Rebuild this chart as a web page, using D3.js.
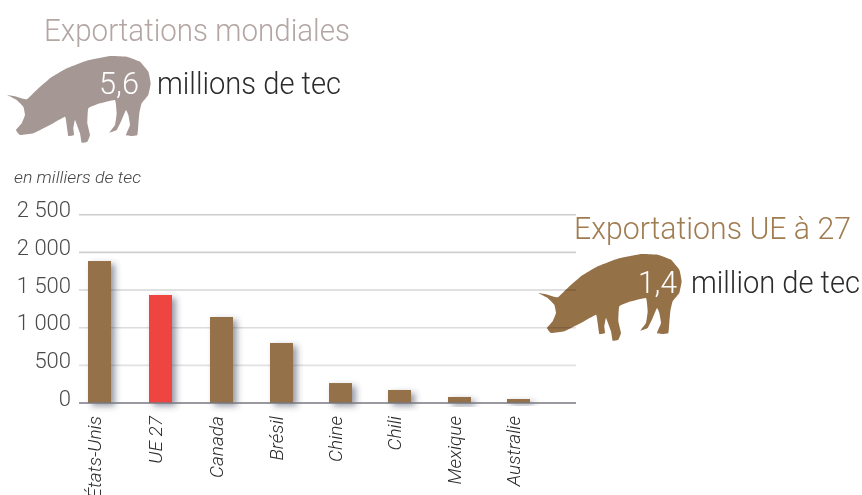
<!DOCTYPE html>
<html><head><meta charset="utf-8">
<script src="https://cdn.jsdelivr.net/npm/d3@7"></script>
<style>
html,body{margin:0;padding:0;background:#fff;overflow:hidden}
svg{display:block}
text{font-family:"Roboto",sans-serif;font-weight:300}
</style></head><body>
<svg id="c" width="862" height="495"></svg>
<script>
const categories=["États-Unis","UE 27","Canada","Brésil","Chine","Chili","Mexique","Australie"];
const values=[1885,1434,1142,797,265,173,80,53];
const barColors=["#957148","#ef4440","#957148","#957148","#957148","#957148","#957148","#957148"];
const tickValues=[0,500,1000,1500,2000,2500];
const tickLabels=["0","500","1 000","1 500","2 000","2 500"];
const gridColors=["none","#e2e2e2","#dcdcdc","#d6d6d6","#cfcfcf","#cccccc"];
const pigOutline=[[22,285],[50,290],[80,298],[110,270],[150,235],[200,205],[260,182],[330,168],[380,170],[420,185],[445,215],[452,250],[445,285],[425,310],[418,340],[415,375],[412,405],[395,408],[378,405],[390,375],[385,345],[378,330],[365,360],[350,390],[328,398],[345,375],[350,340],[345,300],[300,310],[265,325],[262,370],[270,405],[262,425],[245,428],[240,400],[225,360],[220,385],[222,405],[205,408],[200,375],[195,350],[150,375],[100,400],[60,405],[48,390],[65,370],[75,345],[70,320],[50,300]];

const svg=d3.select("#c");
const defs=svg.append("defs");
const f=defs.append("filter").attr("id","sh").attr("x","-60%").attr("y","-60%").attr("width","220%").attr("height","220%");
f.append("feDropShadow").attr("dx",4).attr("dy",3).attr("stdDeviation",3.2).attr("flood-color","#2f3550").attr("flood-opacity",0.5);

const y=d3.scaleLinear().domain([0,2500]).range([403,214.7]);
const xPos=d3.scaleOrdinal().domain(categories).range([99.5,160.5,221.5,281.5,340.5,399.5,459.5,518.5]);

function pig(dx,dy,fill){
  const px=d3.scaleLinear().domain([0,3]).range([dx,dx+1]);
  const py=d3.scaleLinear().domain([0,3]).range([dy,dy+1]);
  const line=d3.line().x(d=>px(d[0])).y(d=>py(d[1])).curve(d3.curveCardinalClosed.tension(0.7));
  svg.append("path").attr("d",line(pigOutline)).attr("fill",fill);
}
pig(0,0,"#a59794");
pig(531,198,"#957148");

const g=svg.append("g");
g.selectAll("line.grid").data(tickValues).join("line").attr("class","grid")
 .attr("x1",79).attr("x2",576).attr("y1",d=>y(d)).attr("y2",d=>y(d))
 .attr("stroke",(d,i)=>gridColors[i]).attr("stroke-width",1.6).style("mix-blend-mode","multiply");
g.selectAll("text.tick").data(tickValues).join("text").attr("class","tick")
 .attr("x",71).attr("y",d=>y(d)+2.5).attr("text-anchor","end").attr("font-size",22)
 .attr("fill","#4a4a4a").text((d,i)=>tickLabels[i]);

g.selectAll("rect.bar").data(values).join("rect").attr("class","bar")
 .attr("x",(d,i)=>xPos(categories[i])-11.5).attr("width",23)
 .attr("y",d=>y(d)).attr("height",d=>y(0)-y(d))
 .attr("fill",(d,i)=>barColors[i]).attr("filter","url(#sh)");
g.append("line").attr("x1",79).attr("x2",576).attr("y1",y(0)).attr("y2",y(0)).attr("stroke","#77777f").attr("stroke-width",1.6);

g.selectAll("text.cat").data(categories).join("text").attr("class","cat")
 .attr("transform",d=>`translate(${xPos(d)-6},416) rotate(-90)`)
 .attr("dy",7).attr("text-anchor","end").attr("font-size",19).attr("font-style","italic")
 .attr("fill","#2b2b2b").text(d=>d);

svg.append("text").attr("x",14).attr("y",183).attr("font-size",17).attr("font-style","italic").attr("fill","#444")
 .attr("textLength",127).attr("lengthAdjust","spacingAndGlyphs").text("en milliers de tec");

function t(x,y,s,c,w,str){svg.append("text").attr("x",x).attr("y",y).attr("font-size",s).attr("fill",c)
 .attr("textLength",w).attr("lengthAdjust","spacingAndGlyphs").text(str);}
t(44,41,32,"#b3a6a3",306,"Exportations mondiales");
t(99,94,32,"#ffffff",40,"5,6");
t(157,94,32,"#2b2b2b",184,"millions de tec");
t(574,239,32,"#a07c50",277,"Exportations UE à 27");
t(638,293,32,"#ffffff",39,"1,4");
t(691,293,32,"#2b2b2b",169,"million de tec");
</script></body></html>
